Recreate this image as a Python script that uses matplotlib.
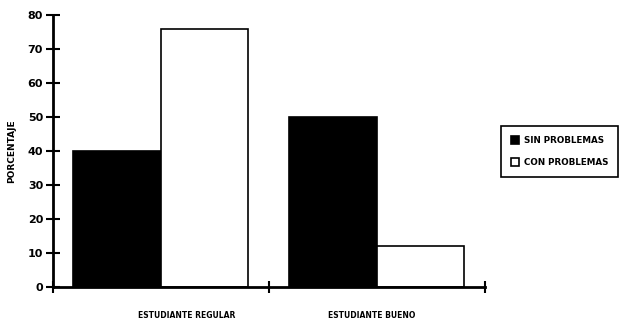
import numpy as np
import matplotlib.pyplot as plt

# Porcentaje de estudiantes con y sin problemas
categorias = ["ESTUDIANTE REGULAR", "ESTUDIANTE BUENO"]
sin_problemas = [40, 50]
con_problemas = [76, 12]

fig = plt.figure(figsize=(6.29, 3.21), dpi=100)
ax = fig.add_axes([0.084, 0.106, 0.687, 0.847])

x = np.arange(len(categorias)) + 0.5
w = 0.405
ax.bar(x - w / 2, sin_problemas, w, color="black", edgecolor="black",
       linewidth=1.2, label="SIN PROBLEMAS")
ax.bar(x + w / 2, con_problemas, w, color="white", edgecolor="black",
       linewidth=1.2, label="CON PROBLEMAS")

ax.set_xlim(0, 2)
ax.set_ylim(0, 80)
ax.set_yticks(range(0, 81, 10))
ax.set_xticks([0, 1, 2])
ax.set_xticklabels([])
ax.set_xticks(x + 0.12 * np.array([1, -0.2]), minor=True)
ax.set_xticklabels(categorias, minor=True, fontsize=5.5, fontweight="bold")
ax.tick_params(axis="x", which="minor", length=0, pad=17)
ax.tick_params(axis="x", which="major", direction="inout", length=8, width=1.5)
ax.tick_params(axis="y", direction="inout", length=10, width=1.5,
               labelsize=8, pad=2)
for t in ax.get_yticklabels():
    t.set_fontweight("bold")

for s in ["top", "right"]:
    ax.spines[s].set_visible(False)
ax.spines["left"].set_linewidth(2)
ax.spines["bottom"].set_linewidth(2)

ax.set_ylabel("PORCENTAJE", fontsize=6.5, fontweight="bold", labelpad=8)

leg = fig.legend(loc="upper left", bbox_to_anchor=(0.790, 0.62),
                 fancybox=False, edgecolor="black", framealpha=1,
                 prop={"size": 6.3, "weight": "bold"},
                 handlelength=0.9, handleheight=0.9, handletextpad=0.6,
                 borderpad=1.1, labelspacing=1.5)
leg.get_frame().set_linewidth(1.2)

fig.savefig("out.png", dpi=100)
